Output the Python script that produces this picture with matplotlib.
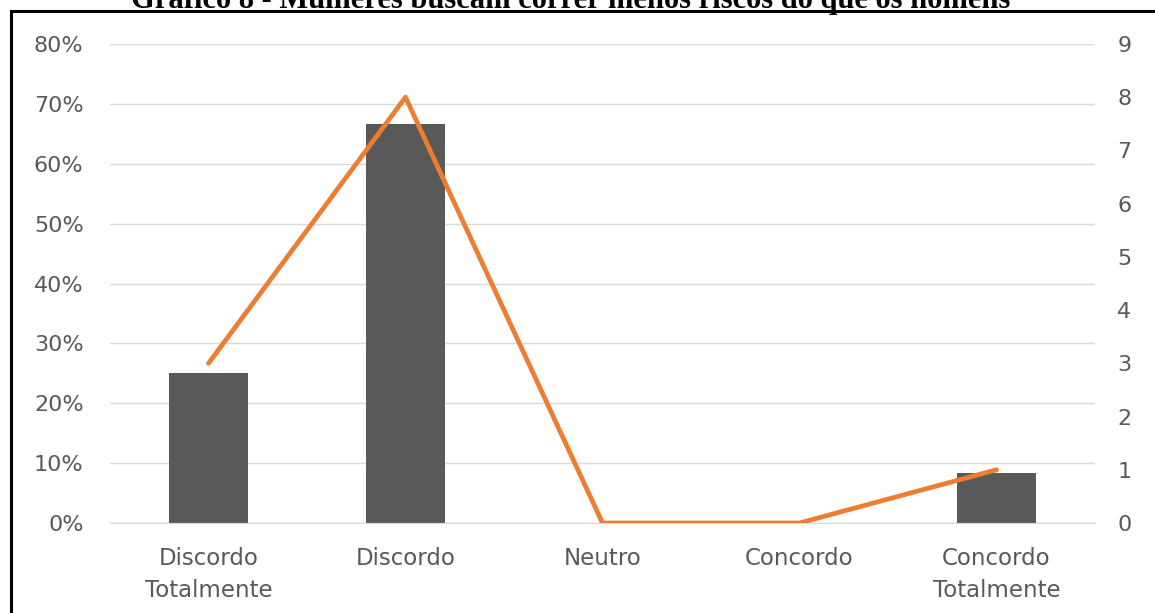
import matplotlib.pyplot as plt
from matplotlib.lines import Line2D
import numpy as np

# Data
categorias = ["Discordo\nTotalmente", "Discordo", "Neutro", "Concordo", "Concordo\nTotalmente"]
respostas = [3, 8, 0, 0, 1]
percentuais = [0.25, 0.6667, 0.0, 0.0, 0.0833]
titulo = "Gráfico 8 - Mulheres buscam correr menos riscos do que os homens"

bar_color = "#595959"
line_color = "#ED7D31"
text_color = "#595959"
grid_color = "#D9D9D9"

fig = plt.figure(figsize=(11.55, 6.13), dpi=100)
ax = fig.add_axes([110 / 1155, 1 - 523 / 613, 985 / 1155, 479 / 613])
ax2 = ax.twinx()

x = np.arange(len(categorias))
ax.bar(x, percentuais, width=0.4, color=bar_color, zorder=2)
ax2.plot(x, respostas, color=line_color, linewidth=3.4, solid_capstyle="round", zorder=3)

ax.set_xlim(-0.5, len(categorias) - 0.5)
ax.set_ylim(0, 0.8)
ax2.set_ylim(0, 9)

ax.set_yticks(np.arange(0, 0.81, 0.1))
ax.set_yticklabels([f"{int(round(v * 100))}%" for v in np.arange(0, 0.81, 0.1)])
ax2.set_yticks(range(10))
ax.set_xticks(x)
ax.set_xticklabels(categorias, linespacing=1.5)

ax.grid(axis="y", color=grid_color, linewidth=1, zorder=0)
ax.set_axisbelow(True)

for a in (ax, ax2):
    for s in a.spines.values():
        s.set_visible(False)
    a.tick_params(length=0, colors=text_color, labelsize=16)
ax.tick_params(axis="x", labelsize=16.5)
ax.spines["bottom"].set_visible(True)
ax.spines["bottom"].set_color(grid_color)
ax.tick_params(axis="y", pad=19)
ax.tick_params(axis="x", pad=17)
ax2.tick_params(axis="y", pad=16)

# title, cut off at the top as in the original page
fig.text(571 / 1155, 1 - 8 / 613, titulo, ha="center", va="baseline",
         family="Liberation Serif", fontweight="bold", fontsize=22)

# frame around the chart (only top and left visible)
fig.add_artist(Line2D([11 / 1155, 1.0], [1 - 11 / 613, 1 - 11 / 613],
                      transform=fig.transFigure, color="black", linewidth=2.2))
fig.add_artist(Line2D([11 / 1155, 11 / 1155], [0.0, 1 - 11 / 613],
                      transform=fig.transFigure, color="black", linewidth=2.2))

fig.savefig("out.png", dpi=100)
